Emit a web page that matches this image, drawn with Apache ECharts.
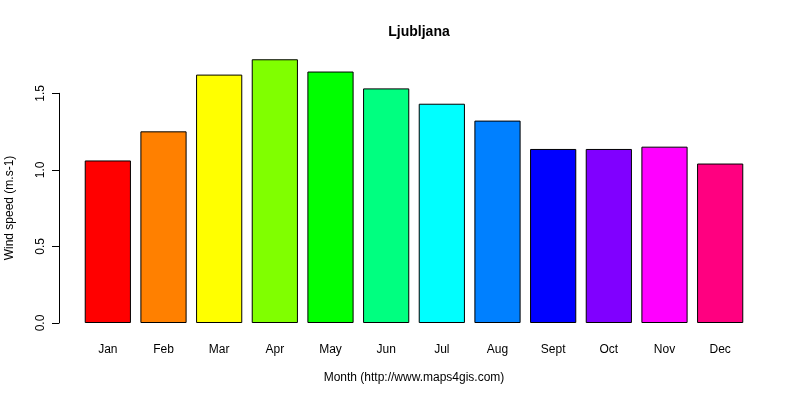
<!DOCTYPE html>
<html>
<head>
<meta charset="utf-8">
<script src="https://cdn.jsdelivr.net/npm/echarts@6/dist/echarts.min.js"></script>
<style>html,body{margin:0;padding:0;background:#fff;}#c{width:800px;height:400px;}</style>
</head>
<body>
<div id="c"></div>
<script>
const months = ['Jan','Feb','Mar','Apr','May','Jun','Jul','Aug','Sept','Oct','Nov','Dec'];
const windSpeed = [1.06, 1.25, 1.62, 1.72, 1.64, 1.53, 1.43, 1.32, 1.135, 1.135, 1.15, 1.04];
const barColors = ['#FF0000','#FF8000','#FFFF00','#80FF00','#00FF00','#00FF80','#00FFFF','#0080FF','#0000FF','#8000FF','#FF00FF','#FF0080'];
const yTicks = [0, 0.5, 1.0, 1.5];

const font = 'Liberation Sans, Arial, sans-serif';
const chart = echarts.init(document.getElementById('c'), null, {renderer: 'canvas'});
chart.setOption({
  animation: false,
  backgroundColor: '#fff',
  title: {
    text: 'Ljubljana', left: 414, top: 20, textAlign: 'center',
    textStyle: {fontFamily: font, fontSize: 14, fontWeight: 'bold', color: '#000'}
  },
  graphic: [
    {type: 'text', x: 414, y: 378, style: {text: 'Month (http://www.maps4gis.com)', font: '12px ' + font, fill: '#000', align: 'center', verticalAlign: 'middle'}},
    {type: 'text', x: 10, y: 208, rotation: Math.PI / 2, style: {text: 'Wind speed (m.s-1)', font: '12px ' + font, fill: '#000', align: 'center', verticalAlign: 'middle'}}
  ],
  grid: [
    {left: 80, right: 52, top: 47, bottom: 77},
    {left: 80, right: 52, top: 93.3, bottom: 77}
  ],
  xAxis: [
    {
      type: 'category', data: months, gridIndex: 0,
      axisLine: {show: false}, axisTick: {show: false},
      axisLabel: {fontFamily: font, fontSize: 12, color: '#000', margin: 21, interval: 0}
    },
    {type: 'category', data: months, gridIndex: 1, show: false}
  ],
  yAxis: [
    {type: 'value', min: 0, max: 1.8, gridIndex: 0, show: false, splitLine: {show: false}},
    {
      type: 'value', min: 0, max: 1.5, interval: 0.5, gridIndex: 1, offset: 21,
      axisLine: {show: true, lineStyle: {color: '#000', width: 1}},
      axisTick: {show: true, length: 7, lineStyle: {color: '#000'}},
      splitLine: {show: false},
      axisLabel: {
        rotate: 90, fontFamily: font, fontSize: 12, color: '#000', margin: 12,
        formatter: v => v.toFixed(1)
      }
    }
  ],
  series: [{
    type: 'bar', xAxisIndex: 0, yAxisIndex: 0,
    barCategoryGap: '17%',
    data: windSpeed.map((v, i) => ({value: v, itemStyle: {color: barColors[i]}})),
    itemStyle: {borderColor: '#000', borderWidth: 1}
  }]
});
</script>
</body>
</html>
